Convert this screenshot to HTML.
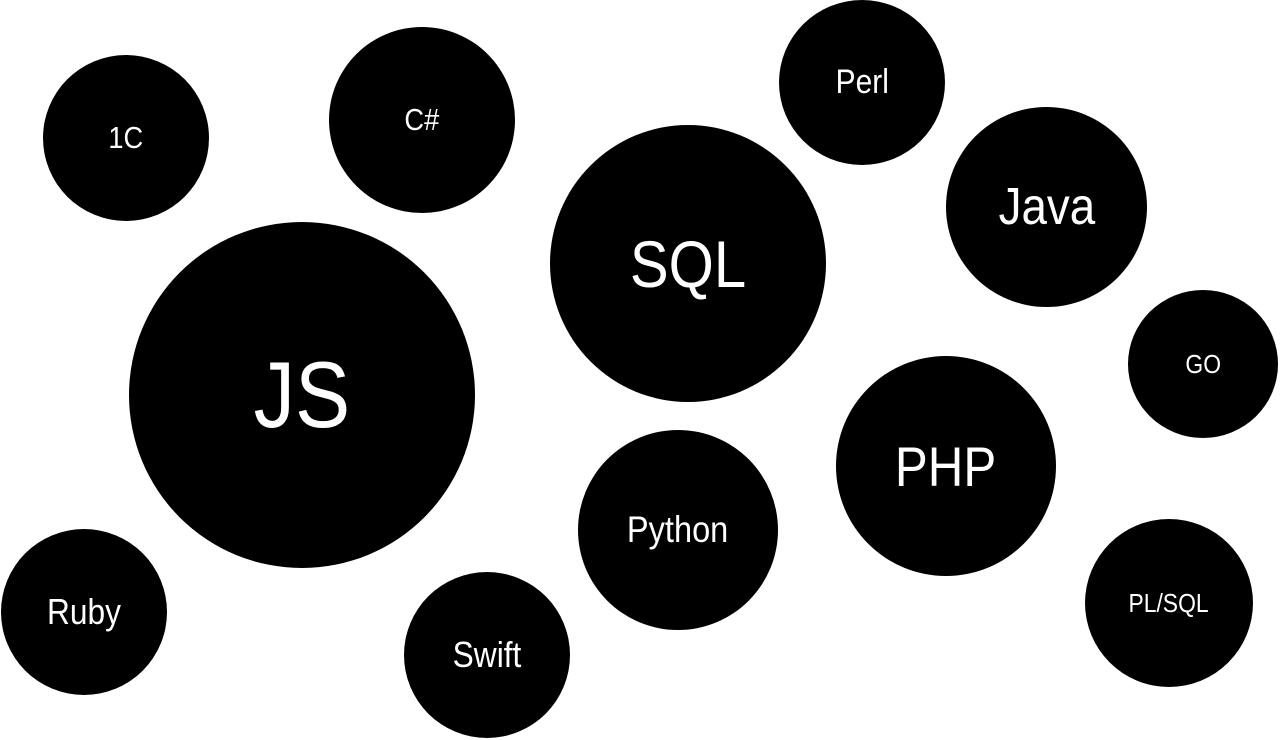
<!DOCTYPE html>
<html><head><meta charset="utf-8"><style>
html,body{margin:0;padding:0;background:#fff;}
body{width:1280px;height:740px;position:relative;overflow:hidden;font-family:"Liberation Sans",sans-serif;}
.c{position:absolute;border-radius:50%;background:#000;color:#fff;display:flex;align-items:center;justify-content:center;}
.c span{display:inline-block;transform:scaleX(0.88);}
</style></head><body>
<div class="c" style="left:43px;top:55px;width:166px;height:166px;font-size:31px"><span>1C</span></div>
<div class="c" style="left:329px;top:27px;width:186px;height:186px;font-size:31px"><span>C#</span></div>
<div class="c" style="left:779px;top:0px;width:166px;height:165px;font-size:34px"><span>Perl</span></div>
<div class="c" style="left:946px;top:107px;width:201px;height:200px;font-size:52px"><span>Java</span></div>
<div class="c" style="left:550px;top:125px;width:276px;height:277px;font-size:66px"><span>SQL</span></div>
<div class="c" style="left:129px;top:222px;width:346px;height:346px;font-size:94px"><span>JS</span></div>
<div class="c" style="left:1128px;top:290px;width:150px;height:148px;font-size:26px"><span>GO</span></div>
<div class="c" style="left:836px;top:356px;width:220px;height:220px;font-size:56px"><span>PHP</span></div>
<div class="c" style="left:578px;top:430px;width:200px;height:200px;font-size:37px"><span>Python</span></div>
<div class="c" style="left:1px;top:529px;width:166px;height:166px;font-size:36px"><span>Ruby</span></div>
<div class="c" style="left:404px;top:572px;width:166px;height:166px;font-size:36px"><span>Swift</span></div>
<div class="c" style="left:1085px;top:519px;width:168px;height:168px;font-size:26px"><span>PL/SQL</span></div>
</body></html>
